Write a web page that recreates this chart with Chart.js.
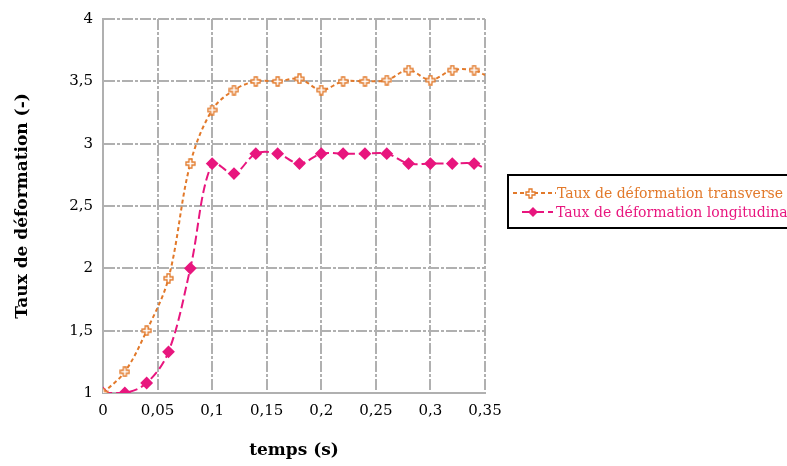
<!DOCTYPE html>
<html>
<head>
<meta charset="utf-8">
<script src="https://cdn.jsdelivr.net/npm/chart.js@4/dist/chart.umd.min.js"></script>
<style>
  html, body { margin: 0; padding: 0; background: #fff; }
  #wrap { width: 787px; height: 466px; }
</style>
</head>
<body>
<div id="wrap"><canvas id="chart"></canvas></div>
<script>
// temps (s)
const timeTransverse = [0, 0.02, 0.04, 0.06, 0.08, 0.1, 0.12, 0.14, 0.16, 0.18, 0.2, 0.22, 0.24, 0.26, 0.28, 0.3, 0.32, 0.34, 0.35];
const transverse = [1.0, 1.17, 1.5, 1.92, 2.84, 3.27, 3.43, 3.5, 3.5, 3.52, 3.43, 3.5, 3.5, 3.51, 3.59, 3.51, 3.59, 3.59, 3.55];
const timeLongitudinal = [0, 0.02, 0.04, 0.06, 0.08, 0.1, 0.12, 0.14, 0.16, 0.18, 0.2, 0.22, 0.24, 0.26, 0.28, 0.3, 0.32, 0.34, 0.35];
const longitudinal = [1.0, 1.0, 1.08, 1.33, 2.0, 2.84, 2.76, 2.92, 2.92, 2.84, 2.92, 2.92, 2.92, 2.92, 2.84, 2.84, 2.84, 2.84, 2.8];
const seriesLabels = ['Taux de déformation transverse', 'Taux de déformation longitudinal'];
const orange = 'rgb(226, 121, 42)';
const pink = 'rgb(232, 22, 126)';

function toPoints(xs, ys) {
  return xs.map((x, i) => ({x: x, y: ys[i]}));
}

function fmt(v) {
  return (+v.toFixed(2)).toString().replace('.', ',');
}

// hollow plus marker
function plusMarker(color) {
  const c = document.createElement('canvas');
  c.width = 11; c.height = 11;
  const g = c.getContext('2d');
  g.beginPath();
  g.moveTo(4, 1); g.lineTo(7, 1); g.lineTo(7, 4); g.lineTo(10, 4); g.lineTo(10, 7);
  g.lineTo(7, 7); g.lineTo(7, 10); g.lineTo(4, 10); g.lineTo(4, 7); g.lineTo(1, 7);
  g.lineTo(1, 4); g.lineTo(4, 4); g.closePath();
  g.fillStyle = '#fff'; g.fill();
  g.strokeStyle = color; g.lineWidth = 1.3; g.stroke();
  return c;
}
const plusImg = plusMarker(orange);

const boxLegend = {
  id: 'boxLegend',
  afterDraw(chart) {
    const ctx = chart.ctx;
    ctx.save();
    ctx.strokeStyle = '#000';
    ctx.lineWidth = 2;
    ctx.strokeRect(508, 175, 290, 53);
    const rows = [
      {y: 193, x0: 513, x1: 556, mx: 530, tx: 557},
      {y: 212, x0: 522, x1: 553, mx: 533, tx: 556}
    ];
    chart.data.datasets.forEach((ds, i) => {
      const r = rows[i];
      ctx.strokeStyle = ds.borderColor;
      ctx.lineWidth = 2;
      ctx.setLineDash(ds.borderDash);
      ctx.beginPath();
      ctx.moveTo(r.x0, r.y); ctx.lineTo(r.x1, r.y);
      ctx.stroke();
      ctx.setLineDash([]);
      if (i === 0) {
        ctx.drawImage(plusImg, r.mx - 5, r.y - 5);
      } else {
        ctx.fillStyle = ds.borderColor;
        ctx.beginPath();
        ctx.moveTo(r.mx, r.y - 5); ctx.lineTo(r.mx + 5, r.y);
        ctx.lineTo(r.mx, r.y + 5); ctx.lineTo(r.mx - 5, r.y);
        ctx.closePath(); ctx.fill();
      }
      ctx.fillStyle = ds.borderColor;
      ctx.font = '14px "DejaVu Serif"';
      ctx.textBaseline = 'middle';
      ctx.fillText(ds.label, r.tx, r.y + 1);
    });
    ctx.restore();
  }
};

const gridStyle = {
  color: '#b0b0b0',
  lineWidth: 2,
  drawTicks: false,
};

new Chart(document.getElementById('chart'), {
  type: 'line',
  data: {
    datasets: [
      {
        label: seriesLabels[0],
        data: toPoints(timeTransverse, transverse),
        borderColor: orange,
        backgroundColor: '#fff',
        borderWidth: 2,
        borderDash: [4, 3],
        tension: 0.35,
        pointStyle: plusImg,
        pointRadius: (c) => c.dataIndex === transverse.length - 1 ? 0 : 5,
      },
      {
        label: seriesLabels[1],
        data: toPoints(timeLongitudinal, longitudinal),
        borderColor: pink,
        backgroundColor: pink,
        borderWidth: 2,
        borderDash: [9, 4],
        tension: 0.35,
        pointStyle: 'rectRot',
        pointRadius: (c) => c.dataIndex === longitudinal.length - 1 ? 0 : 5,
      }
    ]
  },
  options: {
    responsive: true,
    maintainAspectRatio: false,
    animation: false,
    layout: { padding: { top: 14, right: 302, left: 0, bottom: 0 } },
    plugins: {
      legend: { display: false },
      tooltip: { enabled: false },
    },
    scales: {
      x: {
        type: 'linear',
        min: 0,
        max: 0.35,
        afterFit: (s) => { s.height = 73; },
        ticks: {
          stepSize: 0.05,
          padding: 9,
          color: '#000',
          font: { family: 'DejaVu Serif', size: 15 },
          callback: (v) => fmt(v),
        },
        grid: gridStyle,
        border: { color: '#b0b0b0', width: 2, dash: [11, 2, 3, 2] },
        title: {
          display: true,
          text: 'temps (s)',
          color: '#000',
          font: { family: 'DejaVu Serif', size: 17, weight: 'bold' },
          padding: { top: 0, bottom: 5 },
        },
      },
      y: {
        min: 1,
        max: 4,
        afterFit: (s) => { s.width = 103; },
        ticks: {
          stepSize: 0.5,
          padding: 10,
          color: '#000',
          font: { family: 'DejaVu Serif', size: 15 },
          callback: (v) => fmt(v),
        },
        grid: gridStyle,
        border: { color: '#b0b0b0', width: 2, dash: [11, 2, 3, 2] },
        title: {
          display: true,
          text: 'Taux de déformation (-)',
          color: '#000',
          font: { family: 'DejaVu Serif', size: 17, weight: 'bold' },
          padding: { top: 12, bottom: 0 },
        },
      }
    }
  },
  plugins: [boxLegend]
});
</script>
</body>
</html>
